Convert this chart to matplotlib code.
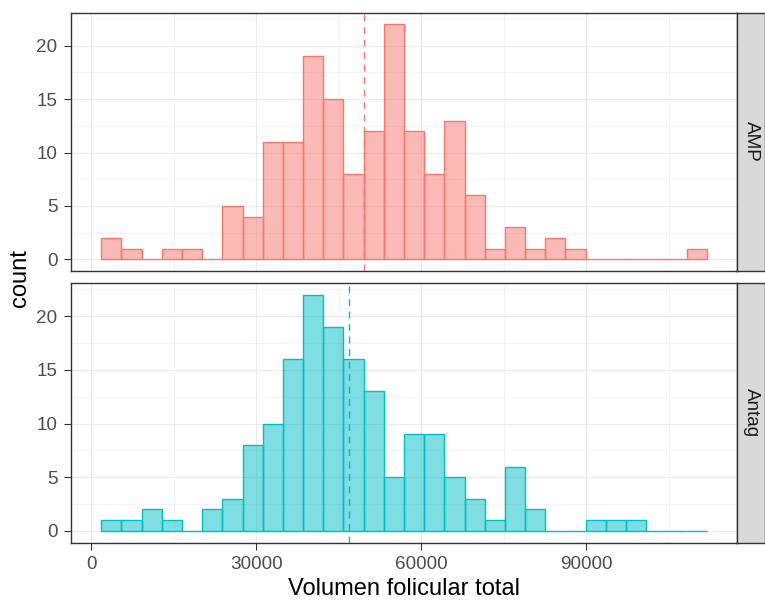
import matplotlib
matplotlib.use("Agg")
import matplotlib.pyplot as plt
from matplotlib.ticker import FixedLocator, NullFormatter

plt.rcParams['font.family'] = ['Liberation Sans', 'DejaVu Sans']

# histogram bins (30 bins of equal width)
bin_start = 1800
bin_width = 3670

groups = ["AMP", "Antag"]
colors = ["#F8766D", "#00BFC4"]

amp_counts = [2, 1, 0, 1, 1, 0, 5, 4, 11, 11, 19, 15, 8, 12, 22,
              12, 8, 13, 6, 1, 3, 1, 2, 1, 0, 0, 0, 0, 0, 1]
antag_counts = [1, 1, 2, 1, 0, 2, 3, 8, 10, 16, 22, 19, 16, 13, 5,
                9, 9, 5, 3, 1, 6, 2, 0, 0, 1, 1, 1, 0, 0, 0]
group_means = [49500, 46900]

x_ticks = [0, 30000, 60000, 90000]
x_minor = [15000, 45000, 75000, 105000]
y_ticks = [0, 5, 10, 15, 20]
y_minor = [2.5, 7.5, 12.5, 17.5, 22.5]

W, H = 765, 601
fig = plt.figure(figsize=(W / 100, H / 100), dpi=100)

panels = [(12.7, 271.0), (283.0, 542.7)]
left, right = 71.0, 737.0
strip_w = 28.0

edges = [bin_start + i * bin_width for i in range(len(amp_counts))]
span = len(amp_counts) * bin_width
x_lo = bin_start - 0.05 * span
x_hi = bin_start + span + 0.05 * span
y_max = max(max(amp_counts), max(antag_counts))

for k, (counts, col, mean, name) in enumerate(
        zip([amp_counts, antag_counts], colors, group_means, groups)):
    top, bot = panels[k]
    ax = fig.add_axes([left / W, 1 - bot / H, (right - left) / W, (bot - top) / H])
    ax.bar(edges, counts, width=bin_width, align='edge', color=col, alpha=0.5,
           edgecolor='none', zorder=2)
    ax.bar(edges, counts, width=bin_width, align='edge', fill=False,
           edgecolor=col, linewidth=1.0, zorder=3)
    ax.axvline(mean, color=col, linestyle=(0, (5, 4)), linewidth=1.0, zorder=4)

    ax.set_xlim(x_lo, x_hi)
    ax.set_ylim(-0.05 * y_max, y_max * 1.05)
    ax.xaxis.set_major_locator(FixedLocator(x_ticks))
    ax.xaxis.set_minor_locator(FixedLocator(x_minor))
    ax.yaxis.set_major_locator(FixedLocator(y_ticks))
    ax.yaxis.set_minor_locator(FixedLocator(y_minor))
    ax.grid(which='major', color='#EBEBEB', linewidth=0.8, zorder=0)
    ax.grid(which='minor', color='#EBEBEB', linewidth=0.4, zorder=0)
    ax.set_axisbelow(True)
    for s in ax.spines.values():
        s.set_color('#333333')
        s.set_linewidth(1.0)
    ax.tick_params(which='minor', length=0)
    ax.tick_params(which='major', length=4.8, width=0.8, color='#333333',
                   labelcolor='#4D4D4D', labelsize=13.6)
    ax.tick_params(axis='y', pad=5)
    ax.tick_params(axis='x', pad=4.5)
    if k == 0:
        ax.tick_params(axis='x', length=0)
        ax.xaxis.set_major_formatter(NullFormatter())

    # facet strip on the right
    sx = fig.add_axes([right / W, 1 - bot / H, strip_w / W, (bot - top) / H])
    sx.set_facecolor('#D9D9D9')
    sx.set_xticks([])
    sx.set_yticks([])
    for s in sx.spines.values():
        s.set_color('#333333')
        s.set_linewidth(1.0)
    sx.text(0.5, 0.5, name, rotation=-90, ha='center', va='center',
            fontsize=13.6, color='#1A1A1A', transform=sx.transAxes)

fig.text((left + right) / 2 / W, 1 - 589 / H, "Volumen folicular total",
         ha='center', va='center', fontsize=17, color='black')
fig.text(20 / W, 1 - 277.7 / H, "count", rotation=90,
         ha='center', va='center', fontsize=17, color='black')

fig.savefig("out.png", dpi=100, facecolor='white')
